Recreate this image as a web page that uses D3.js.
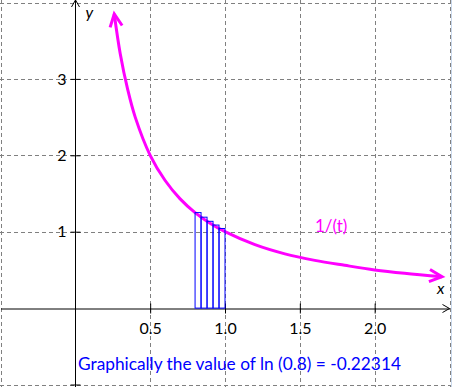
<!DOCTYPE html>
<html>
<head>
<meta charset="utf-8">
<script src="https://cdn.jsdelivr.net/npm/d3@7"></script>
<style>
  body { margin: 0; background: #fff; }
  svg { display: block; font-family: Lato, "Open Sans", sans-serif; }
</style>
</head>
<body>
<svg id="chart" width="452" height="387"></svg>
<script>
// curve y = 1/t
var curveT = [0.26, 0.3, 0.35, 0.4, 0.5, 0.6, 0.7, 0.8, 0.9, 1.0, 1.2, 1.4, 1.6, 1.8, 2.0, 2.2, 2.45];
var curveY = [3.85, 3.33, 2.86, 2.5, 2.0, 1.67, 1.43, 1.25, 1.11, 1.0, 0.83, 0.71, 0.625, 0.56, 0.5, 0.455, 0.41];

// strips under the curve between 0.8 and 1.0
var stripT = [0.8, 0.84, 0.88, 0.92, 0.96];
var stripH = [1.25, 1.19, 1.136, 1.087, 1.042];
var stripW = 0.04;

var xTicks = [0.5, 1.0, 1.5, 2.0];
var yTicks = [-1, 1, 2, 3];
var xGrid = [-0.5, 0.5, 1.0, 1.5, 2.0, 2.5];
var yGrid = [-1, 1, 2, 3, 4];

var curveLabel = "1/(t)";
var caption = "Graphically the value of ln (0.8) = -0.22314";

var svg = d3.select("#chart");

var x = d3.scaleLinear().domain([-0.5, 2.5]).range([0.5, 449.5]),
    y = d3.scaleLinear().domain([-1, 4]).range([384.5, 2.5]);

// grid
var grid = svg.append("g")
    .attr("stroke", "#808080")
    .attr("stroke-width", 1)
    .attr("stroke-dasharray", "4,3");

grid.selectAll(".vg")
    .data(xGrid)
    .enter().append("line")
    .attr("x1", d => Math.round(x(d)) + 0.5)
    .attr("x2", d => Math.round(x(d)) + 0.5)
    .attr("y1", 0)
    .attr("y2", 387);

grid.selectAll(".hg")
    .data(yGrid)
    .enter().append("line")
    .attr("y1", d => Math.round(y(d)) + 0.5)
    .attr("y2", d => Math.round(y(d)) + 0.5)
    .attr("x1", 0)
    .attr("x2", 452);

// frame edge on the right
svg.append("line")
    .attr("x1", 451.5).attr("x2", 451.5)
    .attr("y1", 0).attr("y2", 387)
    .attr("stroke", "#c9d8ec");

// x axis
var xAxis = svg.append("g")
    .attr("transform", "translate(0," + (Math.round(y(0)) + 0.5) + ")")
    .call(d3.axisBottom(x).tickValues(xTicks).tickFormat(d3.format(".1f"))
        .tickSize(5).tickSizeOuter(0).tickPadding(9));

xAxis.select(".domain").attr("stroke", "#000");
xAxis.selectAll(".tick line").attr("y1", -5).attr("stroke", "#000");
xAxis.selectAll(".tick text")
    .attr("font-family", "Lato, sans-serif")
    .attr("font-size", "16px")
    .attr("fill", "#000");

// y axis
var y0 = Math.round(x(0)) + 0.5;
var yAxis = svg.append("g")
    .attr("transform", "translate(" + y0 + ",0)")
    .call(d3.axisLeft(y).tickValues(yTicks).tickFormat(d => d > 0 ? d : "")
        .tickSize(5).tickSizeOuter(0).tickPadding(4));

yAxis.select(".domain").remove();
yAxis.selectAll(".tick line").attr("x1", 5).attr("stroke", "#000");
yAxis.selectAll(".tick text")
    .attr("font-family", "Lato, sans-serif")
    .attr("font-size", "16px")
    .attr("fill", "#000");

svg.append("line")
    .attr("x1", y0).attr("x2", y0)
    .attr("y1", 0).attr("y2", 387)
    .attr("stroke", "#000");

// axis arrows
var axY = Math.round(y(0)) + 0.5;
svg.append("path")
    .attr("d", "M" + (x(2.5) - 7) + "," + (axY - 4) + "L" + x(2.5) + "," + axY + "L" + (x(2.5) - 7) + "," + (axY + 4))
    .attr("fill", "none").attr("stroke", "#000");
svg.append("path")
    .attr("d", "M" + (y0 - 4) + ",7L" + y0 + ",0L" + (y0 + 4) + ",7")
    .attr("fill", "none").attr("stroke", "#000");

// axis names
svg.append("text")
    .attr("x", y0 + 10).attr("y", 18)
    .attr("font-family", "Lato, sans-serif")
    .attr("font-style", "italic")
    .attr("font-size", "16px")
    .text("y");
svg.append("text")
    .attr("x", 437).attr("y", 294)
    .attr("font-family", "Lato, sans-serif")
    .attr("font-style", "italic")
    .attr("font-size", "16px")
    .text("x");

// curve
var pts = curveT.map((t, i) => [x(t), y(curveY[i])]);
var line = d3.line().curve(d3.curveCatmullRom);

svg.append("path")
    .attr("d", line(pts))
    .attr("fill", "none")
    .attr("stroke", "#ff00ff")
    .attr("stroke-width", 3);

function arrowHead(tip, prev) {
    var a = Math.atan2(tip[1] - prev[1], tip[0] - prev[0]),
        len = 14, spread = 0.45;
    var p1 = [tip[0] - len * Math.cos(a - spread), tip[1] - len * Math.sin(a - spread)],
        p2 = [tip[0] - len * Math.cos(a + spread), tip[1] - len * Math.sin(a + spread)];
    svg.append("path")
        .attr("d", "M" + p1 + "L" + tip + "L" + p2)
        .attr("fill", "none")
        .attr("stroke", "#ff00ff")
        .attr("stroke-width", 3);
}
arrowHead(pts[0], pts[1]);
arrowHead(pts[pts.length - 1], pts[pts.length - 2]);

// strips
svg.selectAll(".strip")
    .data(stripT)
    .enter().append("rect")
    .attr("class", "strip")
    .attr("x", d => x(d))
    .attr("y", (d, i) => y(stripH[i]))
    .attr("width", d => x(d + stripW) - x(d))
    .attr("height", (d, i) => y(0) - y(stripH[i]))
    .attr("fill", "none")
    .attr("stroke", "#0000ff")
    .attr("stroke-width", 1);

// labels
svg.append("text")
    .attr("x", 315).attr("y", 232)
    .attr("font-family", "Lato, sans-serif")
    .attr("font-size", "17px")
    .attr("fill", "#ff00ff")
    .text(curveLabel);

svg.append("text")
    .attr("x", 78).attr("y", 370)
    .attr("font-family", "Lato, sans-serif")
    .attr("font-size", "17.3px")
    .attr("fill", "#0000ff")
    .text(caption);
</script>
</body>
</html>
